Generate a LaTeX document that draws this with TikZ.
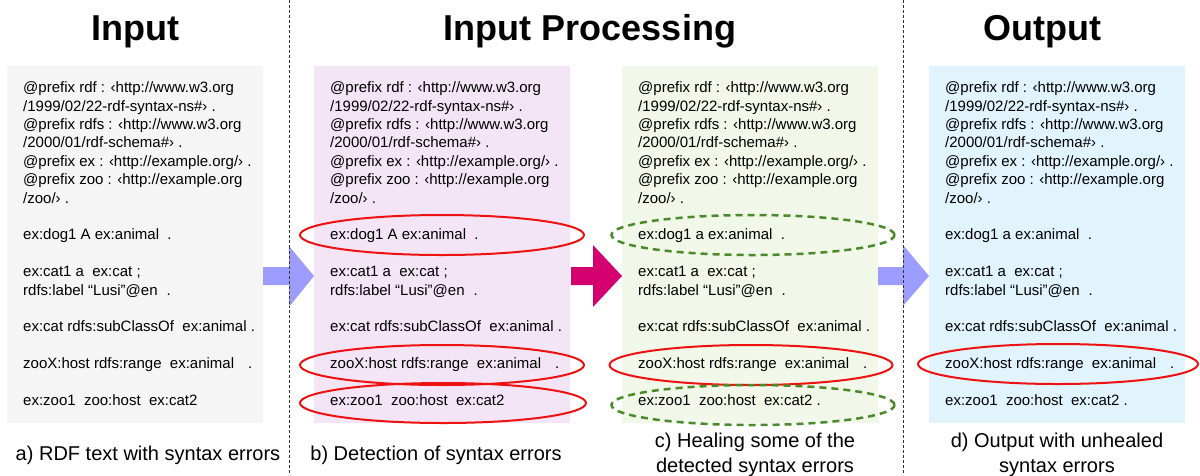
\documentclass[tikz,border=0pt]{standalone}
\usepackage{fontspec}
\setmainfont{Liberation Sans}
\usetikzlibrary{shapes.geometric}
\definecolor{boxgray}{HTML}{F5F5F5}
\definecolor{boxpurple}{HTML}{F3E5F5}
\definecolor{boxgreen}{HTML}{F1F7E9}
\definecolor{boxblue}{HTML}{E1F4FD}
\definecolor{arrblue}{HTML}{9D9DFF}
\definecolor{arrmag}{HTML}{D5006F}
\definecolor{errred}{HTML}{EE1111}
\definecolor{healgreen}{HTML}{4A8A2A}
\definecolor{sepgray}{HTML}{333333}
\tikzset{
  txt/.style={anchor=base west, inner sep=0pt, font=\fontsize{15}{17}\selectfont},
  panel/.style={anchor=north west, inner sep=0pt, minimum width=256pt, minimum height=357pt},
  title/.style={anchor=base, inner sep=0pt, font=\fontsize{36}{40}\selectfont\bfseries},
  caption/.style={anchor=base, inner sep=0pt, align=center, font=\fontsize{20}{24.5}\selectfont},
  errell/.style={ellipse, draw=errred, line width=2pt, inner sep=0pt},
  healell/.style={ellipse, draw=healgreen, line width=2.5pt, dash pattern=on 7pt off 5pt, inner sep=0pt},
  sepline/.style={draw=sepgray, line width=1pt, dash pattern=on 3pt off 2pt},
}
\newcommand{\rdfblock}[4]{%
  \node[txt] (#2l0) at ({#1+16}, 92.7) {@prefix rdf : ‹http://www.w3.org};
  \node[txt] (#2l1) at ({#1+16}, 111.1) {/1999/02/22-rdf-syntax-ns\#› .};
  \node[txt] (#2l2) at ({#1+16}, 129.5) {@prefix rdfs : ‹http://www.w3.org};
  \node[txt] (#2l3) at ({#1+16}, 147.9) {/2000/01/rdf-schema\#› .};
  \node[txt] (#2l4) at ({#1+16}, 166.3) {@prefix ex : ‹http://example.org/› .};
  \node[txt] (#2l5) at ({#1+16}, 184.7) {@prefix zoo : ‹http://example.org};
  \node[txt] (#2l6) at ({#1+16}, 203.1) {/zoo/› .};
  \node[txt] (#2l8) at ({#1+16}, 239.9) {#3};
  \node[txt] (#2l10) at ({#1+16}, 276.7) {ex:cat1 a\ \ ex:cat ;};
  \node[txt] (#2l11) at ({#1+16}, 295.1) {rdfs:label “Lusi”@en\hspace{9pt}.};
  \node[txt] (#2l13) at ({#1+16}, 331.9) {ex:cat rdfs:subClassOf\ \ ex:animal .};
  \node[txt] (#2l15) at ({#1+16}, 368.7) {zooX:host rdfs:range\ \ ex:animal\hspace{14pt}.};
  \node[txt] (#2l17) at ({#1+16}, 405.5) {#4};
}
\begin{document}
\begin{tikzpicture}[x=1pt, y=-1pt]
\useasboundingbox (0,0) rectangle (1200,475);

% titles
\node[title] (t1) at (135, 40) {Input};
\node[title] (t2) at (590, 40) {Input Processing};
\node[title] (t3) at (1042, 40) {Output};

% separators
\coordinate (s1a) at (289, 0); \coordinate (s1b) at (289, 475);
\coordinate (s2a) at (903, 0); \coordinate (s2b) at (903, 475);
\draw[sepline] (s1a) -- (s1b);
\draw[sepline] (s2a) -- (s2b);

% panels
\node[panel, fill=boxgray] (pa) at (7, 66) {};
\node[panel, fill=boxpurple] (pb) at (314, 66) {};
\node[panel, fill=boxgreen] (pc) at (622, 66) {};
\node[panel, fill=boxblue] (pd) at (929, 66) {};

% block arrows
\fill[arrblue] (263,267) -- (289,267) -- (289,246) -- (314,276) -- (289,307) -- (289,285) -- (263,285) -- cycle;
\fill[arrmag] (571,267) -- (593,267) -- (593,245) -- (622,276) -- (593,307) -- (593,285) -- (571,285) -- cycle;
\fill[arrblue] (878,267) -- (903,267) -- (903,245) -- (929,276) -- (903,306) -- (903,285) -- (878,285) -- cycle;
\draw[sepline] (289,246) -- (289,307);
\draw[sepline] (903,245) -- (903,306);

% texts
\rdfblock{7}{a}{ex:dog1 A ex:animal\ \ .}{ex:zoo1\ \ zoo:host\ \ ex:cat2}
\rdfblock{314}{b}{ex:dog1 A ex:animal\ \ .}{ex:zoo1\ \ zoo:host\ \ ex:cat2}
\rdfblock{622}{c}{ex:dog1 a ex:animal\ \ .}{ex:zoo1\ \ zoo:host\ \ ex:cat2 .}
\rdfblock{929}{d}{ex:dog1 a ex:animal\ \ .}{ex:zoo1\ \ zoo:host\ \ ex:cat2 .}

% ellipses
\node[errell, minimum width=284pt, minimum height=40pt] (eb1) at (442, 235) {};
\node[errell, minimum width=284pt, minimum height=40pt] (eb2) at (442, 365) {};
\node[errell, minimum width=286pt, minimum height=40pt] (eb3) at (443, 403) {};
\node[healell, minimum width=283pt, minimum height=40pt] (ec1) at (753, 235) {};
\node[errell, minimum width=283pt, minimum height=40pt] (ec2) at (751, 365) {};
\node[healell, minimum width=283pt, minimum height=40pt] (ec3) at (753, 405) {};
\node[errell, minimum width=280pt, minimum height=40pt] (ed1) at (1058, 364) {};

% captions
\node[caption] (ca) at (148, 460) {a) RDF text with syntax errors};
\node[caption] (cb) at (436, 460) {b) Detection of syntax errors};
\node[caption] (cc) at (755, 472) {c) Healing some of the\\detected syntax errors};
\node[caption] (cd) at (1057, 472) {d) Output with unhealed\\syntax errors};
\end{tikzpicture}
\end{document}
